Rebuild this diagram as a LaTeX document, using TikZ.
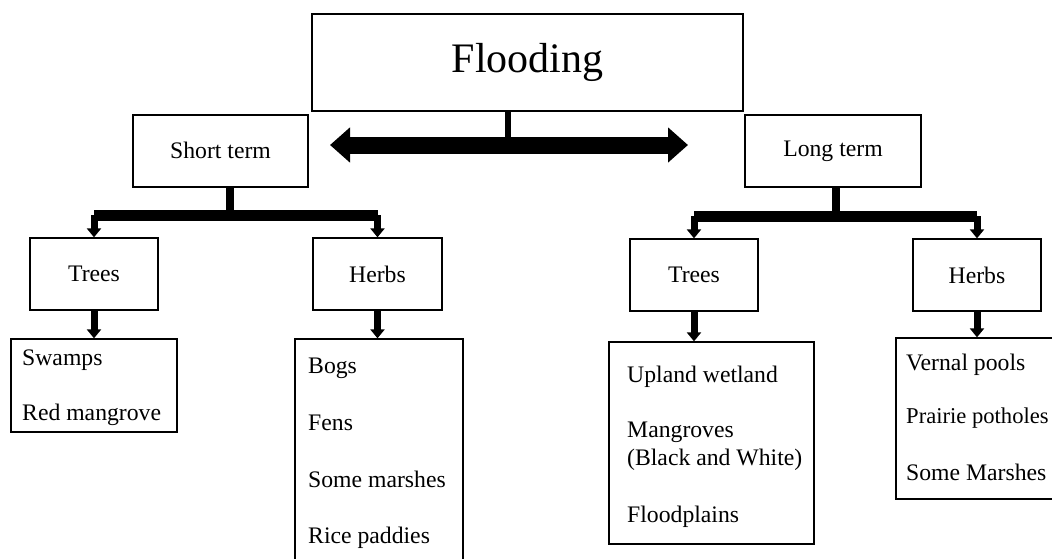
\documentclass[tikz,border=0pt]{standalone}
\usepackage{fontspec}
\setmainfont{Liberation Serif}
\usetikzlibrary{arrows.meta,calc}
\begin{document}
\begin{tikzpicture}[x=1pt,y=-1pt,
  box/.style 2 args={draw,line width=1.3pt,inner sep=0pt,minimum width=#1,minimum height=#2,font=\fontsize{23.7}{28}\selectfont},
  item/.style={anchor=base west,inner sep=0pt,font=\fontsize{23.7}{28}\selectfont},
  dbl/.style={line width=17pt,{Triangle[width=34pt,length=20pt]}-{Triangle[width=34pt,length=20pt]}},
  stemline/.style={line width=#1},
  barline/.style={line width=11pt},
  drop/.style={line width=7pt,-{Triangle[width=14pt,length=9pt]}}]
\clip (0,0) rectangle (1052,558);
\fill[white] (0,0) rectangle (1052,558);
% top
\node[box={431pt}{97pt},font=\fontsize{42}{50}\selectfont] (flood) at (527.5,62.5) {Flooding};
\node[box={175pt}{72pt}] (st) at (220.5,151) {\raisebox{2pt}{Short term}};
\node[box={176pt}{72pt}] (lt) at (833,151) {Long term};
\coordinate (fa) at (508,145);
\coordinate (al) at (330,145);
\coordinate (ar) at (688,145);
\draw[stemline=6pt] (flood.south -| fa) -- (fa);
\draw[dbl] (al) -- (ar);
% second level
\node[box={128pt}{72pt}] (str) at (94,274) {Trees};
\node[box={129pt}{72pt}] (sth) at (377.5,274) {Herbs};
\node[box={128pt}{72pt}] (ltr) at (694,275) {Trees};
\node[box={128pt}{72pt}] (lth) at (977,275) {Herbs};
\coordinate (sb) at (230,215);
\coordinate (lb) at (836,216);
\draw[stemline=8pt] (st.south -| sb) -- (sb);
\draw[barline] (str.north |- sb) -- (sth.north |- sb);
\draw[drop] (str.north |- sb) -- (str.north);
\draw[drop] (sth.north |- sb) -- (sth.north);
\draw[stemline=8pt] (lt.south -| lb) -- (lb);
\draw[barline] (ltr.north |- lb) -- (lth.north |- lb);
\draw[drop] (ltr.north |- lb) -- (ltr.north);
\draw[drop] (lth.north |- lb) -- (lth.north);
% lists
\node[box={166pt}{93pt}] (sl1) at (94,385.5) {};
\node[box={168pt}{231pt}] (sl2) at (379,454.5) {};
\node[box={205pt}{202pt}] (ll1) at (711.5,443) {};
\node[box={170pt}{161pt}] (ll2) at (981,418.5) {};
\draw[drop] (str.south) -- (str.south |- sl1.north);
\draw[drop] (sth.south) -- (sth.south |- sl2.north);
\draw[drop] (ltr.south) -- (ltr.south |- ll1.north);
\draw[drop] (lth.south) -- (lth.south |- ll2.north);
% items
\node[item] (i1) at (22,365) {Swamps};
\node[item] (i2) at (22,420) {Red mangrove};
\node[item] (i3) at (308,373) {Bogs};
\node[item] (i4) at (308,430) {Fens};
\node[item] (i5) at (308,487) {Some marshes};
\node[item] (i6) at (308,543) {Rice paddies};
\node[item] (i7) at (627,382) {Upland wetland};
\node[item] (i8) at (627,437) {Mangroves};
\node[item] (i9) at (627,465) {(Black and White)};
\node[item] (i10) at (627,522) {Floodplains};
\node[item] (i11) at (906,370) {Vernal pools};
\node[item,font=\fontsize{22.6}{28}\selectfont] (i12) at (906,423) {Prairie potholes};
\node[item] (i13) at (906,480) {Some Marshes};
\end{tikzpicture}
\end{document}
